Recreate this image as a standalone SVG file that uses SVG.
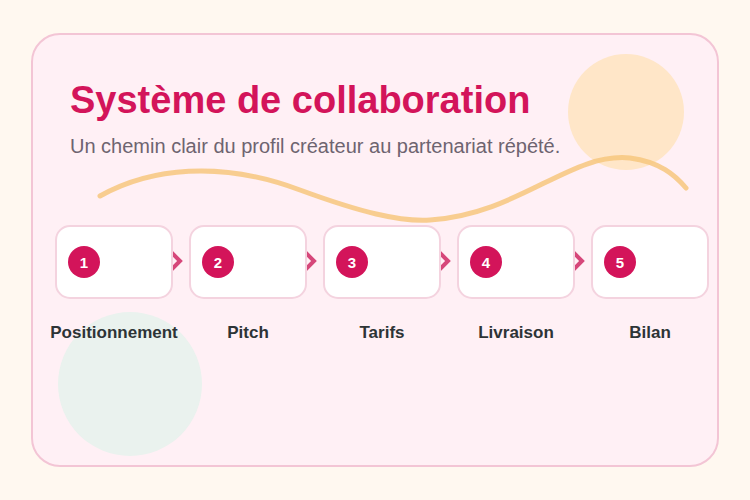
<svg xmlns="http://www.w3.org/2000/svg" width="750" height="500" viewBox="0 0 750 500">
<defs>
<style>
.box{fill:#ffffff;stroke:#f4d3df;stroke-width:2}
.badge{fill:#d3145a}
.num{font-family:"Liberation Sans",Arial,sans-serif;font-weight:bold;font-size:15px;fill:#ffffff;text-anchor:middle}
.lbl{font-family:"Liberation Sans",Arial,sans-serif;font-weight:bold;font-size:17px;fill:#2d3436;text-anchor:middle}
.chev{fill:none;stroke:#d6477a;stroke-width:4;stroke-linecap:butt;stroke-linejoin:miter}
</style>
</defs>
<rect width="750" height="500" fill="#fff8f0"/>
<rect x="32" y="34" width="686" height="432" rx="28" fill="#fff0f5" stroke="#f3c5d5" stroke-width="2"/>
<circle cx="626" cy="112" r="58" fill="#ffe6c8"/>
<circle cx="130" cy="384" r="72" fill="#eaf2ee"/>
<path d="M100,196 C150,168 220,160 300,190 C360,212 400,222 430,220 C520,214 570,152 630,158 C660,162 675,175 686,188" fill="none" stroke="#f7c77e" stroke-opacity="0.85" stroke-width="5" stroke-linecap="round"/>
<text x="70" y="113" font-family="'Liberation Sans',Arial,sans-serif" font-weight="bold" font-size="38" fill="#d3145a">Système de collaboration</text>
<text x="70" y="153" font-family="'Liberation Sans',Arial,sans-serif" font-size="20" fill="#6e6470">Un chemin clair du profil créateur au partenariat répété.</text>
<g id="connectors">
<polyline class="chev" points="171,252 180,261 171,270"/>
<polyline class="chev" points="305,252 314,261 305,270"/>
<polyline class="chev" points="439,252 448,261 439,270"/>
<polyline class="chev" points="573,252 582,261 573,270"/>
</g>
<g id="node1"><rect class="box" x="56" y="226" width="116" height="72" rx="14"/><circle class="badge" cx="84" cy="262" r="16"/><text class="num" x="84" y="267.5">1</text><text class="lbl" x="114" y="338">Positionnement</text></g>
<g id="node2"><rect class="box" x="190" y="226" width="116" height="72" rx="14"/><circle class="badge" cx="218" cy="262" r="16"/><text class="num" x="218" y="267.5">2</text><text class="lbl" x="248" y="338">Pitch</text></g>
<g id="node3"><rect class="box" x="324" y="226" width="116" height="72" rx="14"/><circle class="badge" cx="352" cy="262" r="16"/><text class="num" x="352" y="267.5">3</text><text class="lbl" x="382" y="338">Tarifs</text></g>
<g id="node4"><rect class="box" x="458" y="226" width="116" height="72" rx="14"/><circle class="badge" cx="486" cy="262" r="16"/><text class="num" x="486" y="267.5">4</text><text class="lbl" x="516" y="338">Livraison</text></g>
<g id="node5"><rect class="box" x="592" y="226" width="116" height="72" rx="14"/><circle class="badge" cx="620" cy="262" r="16"/><text class="num" x="620" y="267.5">5</text><text class="lbl" x="650" y="338">Bilan</text></g>
</svg>
